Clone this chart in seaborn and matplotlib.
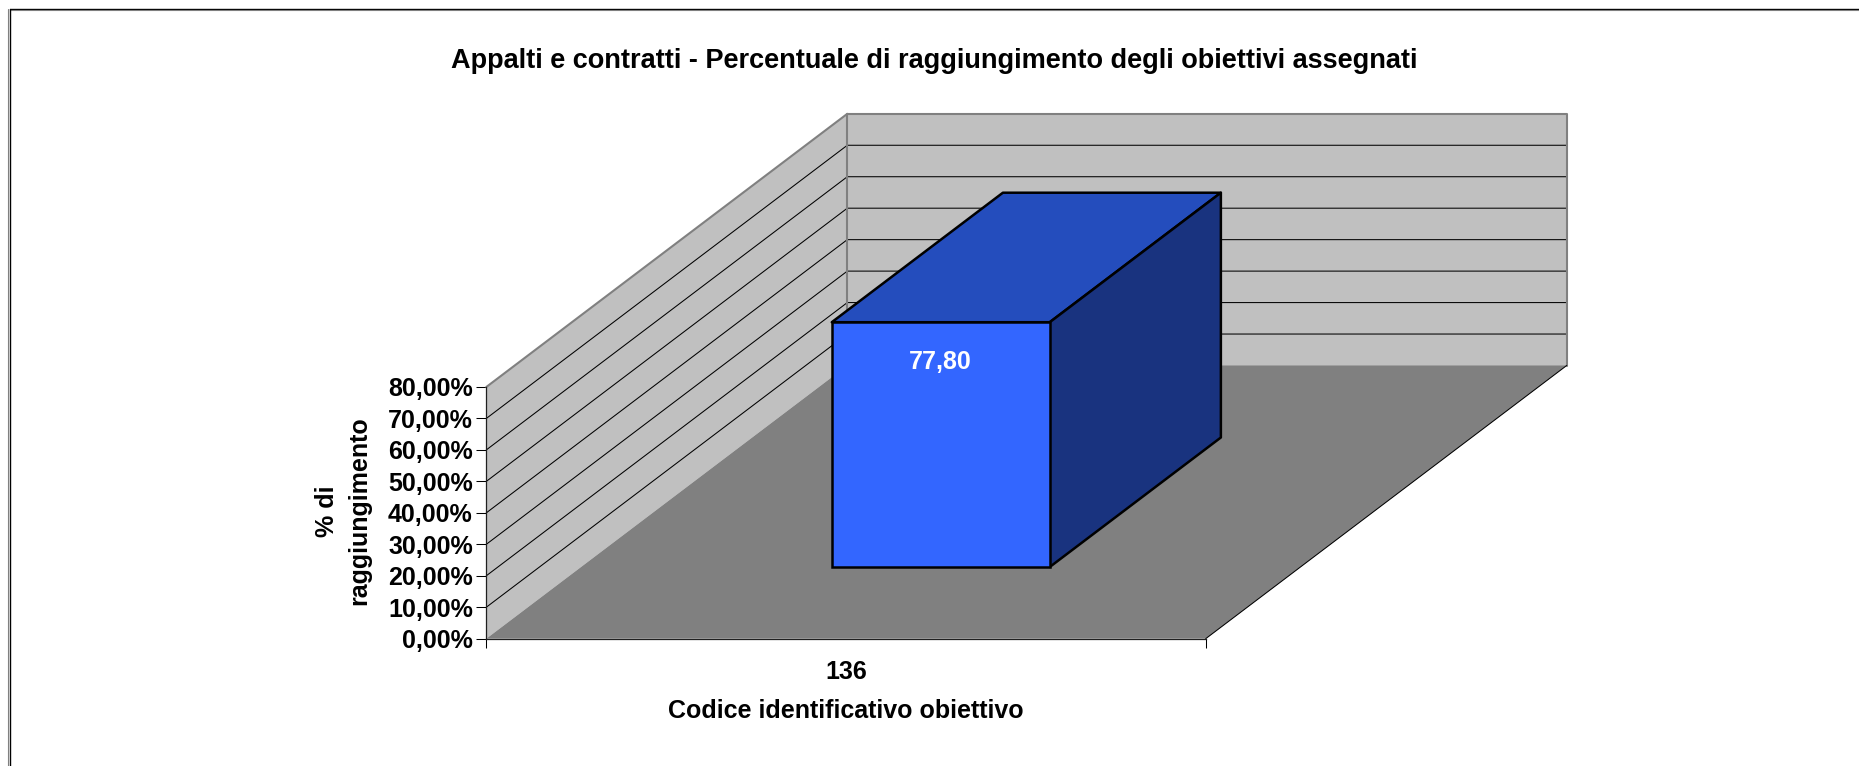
import matplotlib
matplotlib.use("Agg")
import matplotlib.pyplot as plt
from matplotlib.lines import Line2D
from matplotlib.ticker import FuncFormatter
from matplotlib.transforms import Affine2D
import seaborn as sns

## Data
codes = ["136"]
reached = [77.80]
value_labels = ["77,80"]
y_ticks = [0, 10, 20, 30, 40, 50, 60, 70, 80]

title = "Appalti e contratti - Percentuale di raggiungimento degli obiettivi assegnati"
x_title = "Codice identificativo obiettivo"
y_title = "% di\nraggiungimento"

W, H = 1859, 766

sns.set_theme(style="white")
plt.rcParams["font.family"] = ["Liberation Sans", "DejaVu Sans"]
plt.rcParams["font.weight"] = "bold"

fig = plt.figure(figsize=(W / 100, H / 100), dpi=100, facecolor="white")

## front plane of the 3D box, in pixels
left, right, bottom, top = 486.3, 1205.7, 638.7, 387.0
ax = fig.add_axes([left / W, 1 - bottom / H, (right - left) / W, (bottom - top) / H])
ax.patch.set_alpha(0)

## oblique depth: one full depth unit moves this far in data units
depth_x = 361 / (right - left)
depth_y = 273.2 / (bottom - top) * 80


def proj(x, y, d):
    return x + d * depth_x, y + d * depth_y


def face(points, color, z, ec="none", lw=0):
    xs, ys = zip(*[proj(*p) for p in points])
    ax.fill(xs, ys, facecolor=color, edgecolor=ec, linewidth=lw, zorder=z,
            clip_on=False, joinstyle="round")


## bar (front face comes from seaborn, the box is pushed back into the floor)
sns.barplot(x=codes, y=reached, width=0.303, color="#3366FF", saturation=1,
            edgecolor="black", linewidth=1.8, ax=ax, zorder=5)
ax.set_xlim(-0.5, 0.5)
ax.set_ylim(0, 80)

x0, x1 = -0.5, 0.5
ymax = y_ticks[-1]

## walls and floor
face([(x0, 0, 0), (x0, ymax, 0), (x0, ymax, 1), (x0, 0, 1)], "#C0C0C0", 1)
face([(x0, 0, 1), (x0, ymax, 1), (x1, ymax, 1), (x1, 0, 1)], "#C0C0C0", 1)
face([(x0, 0, 0), (x1, 0, 0), (x1, 0, 1), (x0, 0, 1)], "#808080", 2)

## gridlines, running back along the side wall and across the back wall
for t in y_ticks[1:-1]:
    xs, ys = zip(*[proj(x0, t, 0), proj(x0, t, 1), proj(x1, t, 1)])
    ax.plot(xs, ys, color="black", lw=0.75, zorder=3, clip_on=False)

## wall outline
xs, ys = zip(*[proj(x0, 0, 1), proj(x0, ymax, 1), proj(x1, ymax, 1), proj(x1, 0, 1)])
ax.plot(xs, ys, color="#808080", lw=1.5, zorder=3, clip_on=False)
xs, ys = zip(*[proj(x0, ymax, 0), proj(x0, ymax, 1)])
ax.plot(xs, ys, color="#808080", lw=1.5, zorder=3, clip_on=False)
xs, ys = zip(*[proj(x1, 0, 0), proj(x1, 0, 1)])
ax.plot(xs, ys, color="black", lw=0.75, zorder=3, clip_on=False)

## box around the bar
d_front, d_back = 0.2625, 0.7365
bar = ax.patches[0]
bx0 = bar.get_x()
bx1 = bx0 + bar.get_width()
bh = bar.get_height()
dx, dy = proj(0, 0, d_front)
bar.set_transform(Affine2D().translate(dx, dy) + ax.transData)
bar.set_clip_on(False)
bar.set_zorder(6)
face([(bx0, bh, d_front), (bx1, bh, d_front), (bx1, bh, d_back), (bx0, bh, d_back)],
     "#244DBD", 5, ec="black", lw=1.8)
face([(bx1, 0, d_front), (bx1, bh, d_front), (bx1, bh, d_back), (bx1, 0, d_back)],
     "#19337F", 5, ec="black", lw=1.8)

ax.annotate(value_labels[0], xy=proj((bx0 + bx1) / 2, bh, d_front), xytext=(-0.4, -28.5),
            textcoords="offset points", color="white", fontsize=18, fontweight="bold",
            ha="center", va="center", zorder=7, annotation_clip=False)

## axes
sns.despine(ax=ax, top=True, right=True)
for s in ["left", "bottom"]:
    ax.spines[s].set_color("#202020")
    ax.spines[s].set_linewidth(0.9)
    ax.spines[s].set_zorder(4)

ax.set_yticks(y_ticks)
ax.yaxis.set_major_formatter(FuncFormatter(lambda v, p: f"{v:.2f}%".replace(".", ",")))
ax.tick_params(axis="y", which="major", left=True, length=7.2, width=0.75, color="black",
               pad=2.5, labelsize=18)
ax.set_xticks([0])
ax.set_xticklabels(codes)
ax.set_xticks([x0, x1], minor=True)
ax.tick_params(axis="x", which="major", bottom=False, length=0, pad=15, labelsize=18)
ax.tick_params(axis="x", which="minor", bottom=True, length=6.5, width=0.75, color="black")
for lab in ax.get_xticklabels() + ax.get_yticklabels():
    lab.set_fontweight("bold")
    lab.set_color("black")

ax.set_xlabel("")
ax.set_ylabel("")
fig.text(846 / W, 1 - 711 / H, x_title, fontsize=18, fontweight="bold", color="black",
         ha="center", va="center")
fig.text(343 / W, 1 - 511 / H, y_title, fontsize=18, fontweight="bold", color="black",
         ha="center", va="center", rotation=90, multialignment="center", linespacing=1.4)
fig.text(934.5 / W, 1 - 61 / H, title, fontsize=19.5, fontweight="bold", color="black",
         ha="center", va="center")

## chart area frame, only top and left are inside the picture
fig.add_artist(Line2D([9.5 / W, 1], [1 - 8.5 / H, 1 - 8.5 / H], color="black", lw=1))
fig.add_artist(Line2D([9.5 / W, 1], [1 - 9.7 / H, 1 - 9.7 / H], color="#808080", lw=0.8))
fig.add_artist(Line2D([9.5 / W, 9.5 / W], [0, 1 - 8.5 / H], color="black", lw=1))
fig.add_artist(Line2D([8.3 / W, 8.3 / W], [0, 1 - 8.5 / H], color="#808080", lw=0.8))

fig.savefig("out.png", dpi=100, facecolor="white")
